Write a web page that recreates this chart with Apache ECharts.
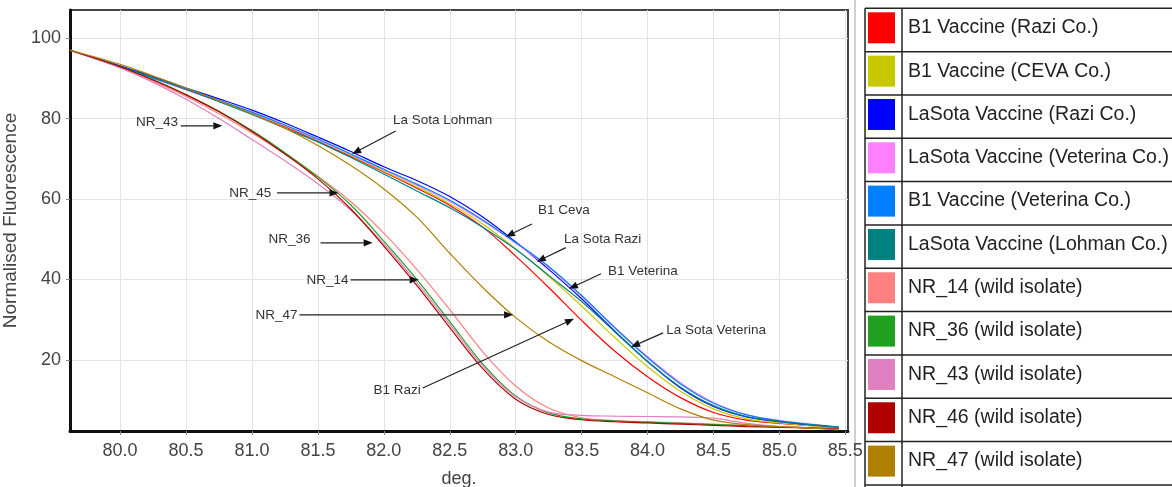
<!DOCTYPE html>
<html><head><meta charset="utf-8">
<script src="https://cdn.jsdelivr.net/npm/echarts@6/dist/echarts.min.js"></script>
<style>html,body{margin:0;padding:0;background:#fff;}#c{width:1172px;height:487px;}</style>
</head><body><div id="c"></div>
<script>
// ---- data ----
const temperature = [79.62, 80.0, 80.25, 80.5, 80.75, 81.0, 81.25, 81.5, 81.75, 82.0, 82.25, 82.5, 82.75, 83.0, 83.25, 83.5, 83.75, 84.0, 84.25, 84.5, 84.75, 85.0, 85.25, 85.45];

const b1Razi        = [97, 92.9, 90.1, 87.2, 84.3, 81.3, 78.0, 74.4, 70.6, 66.7, 62.7, 58.4, 53.0, 45.8, 38.0, 29.8, 22.2, 15.8, 10.6, 6.9, 5.0, 4.2, 3.6, 3.1];
const b1Ceva        = [97, 93.0, 90.2, 87.3, 84.4, 81.4, 78.2, 74.6, 70.8, 66.9, 63.0, 58.8, 53.8, 47.6, 40.8, 33.4, 25.6, 18.3, 12.2, 7.8, 5.3, 4.3, 3.6, 3.1];
const lasotaRazi    = [97, 93.1, 90.4, 87.6, 84.9, 82.1, 78.9, 75.4, 71.8, 68.0, 64.6, 60.6, 55.5, 49.3, 42.5, 35.2, 27.2, 19.6, 13.0, 8.4, 5.8, 4.6, 3.8, 3.2];
const lasotaVeterina= [97, 92.8, 90.0, 87.2, 84.3, 81.4, 78.2, 74.7, 71.0, 67.2, 63.4, 59.4, 54.5, 49.0, 43.0, 35.8, 28.2, 20.8, 14.3, 9.4, 6.4, 4.9, 4.0, 3.3];
const b1Veterina    = [97, 92.9, 90.1, 87.3, 84.5, 81.6, 78.4, 74.9, 71.2, 67.4, 63.7, 59.7, 54.8, 49.2, 43.2, 36.0, 28.0, 20.5, 14.0, 9.2, 6.3, 4.8, 3.9, 3.3];
const lasotaLohman  = [97, 93.0, 90.2, 87.3, 84.2, 81.0, 77.6, 74.2, 70.3, 66.2, 62.0, 57.8, 53.0, 47.5, 41.0, 34.5, 27.0, 19.6, 13.2, 8.6, 5.9, 4.7, 3.8, 3.2];
const nr14          = [97, 92.7, 89.3, 85.5, 81.2, 76.4, 71.2, 65.6, 59.3, 51.5, 42.5, 32.5, 22.0, 13.5, 8.0, 5.6, 4.9, 4.6, 4.3, 4.0, 3.7, 3.4, 3.1, 2.9];
const nr36          = [97, 92.9, 89.7, 86.0, 81.8, 77.0, 71.5, 65.5, 58.5, 49.5, 40.0, 29.5, 19.0, 11.0, 6.8, 5.3, 4.8, 4.5, 4.2, 3.9, 3.6, 3.3, 3.1, 2.9];
const nr43          = [97, 92.6, 89.0, 84.8, 80.0, 74.8, 69.5, 63.8, 57.2, 48.8, 39.2, 28.8, 18.5, 10.8, 7.0, 6.2, 6.0, 5.9, 5.8, 5.5, 4.2, 3.4, 3.1, 2.9];
const nr46          = [97, 92.9, 89.6, 85.9, 81.7, 76.8, 71.2, 65.0, 57.5, 48.3, 38.5, 28.0, 17.8, 10.2, 6.4, 5.1, 4.6, 4.3, 4.0, 3.7, 3.4, 3.2, 3.0, 2.8];
const nr47          = [97, 93.5, 90.6, 87.6, 84.5, 81.2, 77.6, 73.3, 68.3, 62.5, 55.5, 46.5, 38.0, 30.5, 24.5, 19.8, 15.8, 11.8, 7.8, 5.0, 3.9, 3.4, 3.0, 2.6];

const seriesNames = [
  'B1 Vaccine (Razi Co.)', 'B1 Vaccine (CEVA Co.)', 'LaSota Vaccine (Razi Co.)',
  'LaSota Vaccine (Veterina Co.)', 'B1 Vaccine (Veterina Co.)', 'LaSota Vaccine (Lohman Co.)',
  'NR_14 (wild isolate)', 'NR_36 (wild isolate)', 'NR_43 (wild isolate)',
  'NR_46 (wild isolate)', 'NR_47 (wild isolate)'
];
const seriesValues = [b1Razi, b1Ceva, lasotaRazi, lasotaVeterina, b1Veterina, lasotaLohman, nr14, nr36, nr43, nr46, nr47];
const seriesColors = ['#ff0000', '#c8c800', '#0000ff', '#ff80ff', '#0080ff', '#008080', '#ff8080', '#20a020', '#e080c0', '#b00000', '#b08000'];

const xTickValues = [80.0, 80.5, 81.0, 81.5, 82.0, 82.5, 83.0, 83.5, 84.0, 84.5, 85.0, 85.5];
const yTickValues = [20, 40, 60, 80, 100];

// annotation labels (data coordinates)
const annotations = [
  {text: 'NR_43', at: [80.44, 79.2], align: 'right', from: [80.46, 78.2], to: [80.775, 78.2]},
  {text: 'La Sota Lohman', at: [82.07, 79.45], align: 'left', from: [82.09, 76.9], to: [81.76, 71.2]},
  {text: 'NR_45', at: [81.147, 61.5], align: 'right', from: [81.19, 61.5], to: [81.656, 61.5]},
  {text: 'NR_36', at: [81.444, 50.1], align: 'right', from: [81.52, 49.1], to: [81.915, 49.1]},
  {text: 'NR_14', at: [81.732, 39.9], align: 'right', from: [81.748, 39.9], to: [82.264, 39.9]},
  {text: 'NR_47', at: [81.345, 31.2], align: 'right', from: [81.36, 31.2], to: [82.98, 31.2]},
  {text: 'B1 Razi', at: [82.28, 12.5], align: 'right', from: [82.295, 13.0], to: [83.442, 30.2]},
  {text: 'B1 Ceva', at: [83.169, 57.3], align: 'left', from: [83.123, 53.8], to: [82.925, 50.6]},
  {text: 'La Sota Razi', at: [83.366, 50.1], align: 'left', from: [83.38, 47.9], to: [83.16, 44.4]},
  {text: 'B1 Veterina', at: [83.70, 41.9], align: 'left', from: [83.647, 41.4], to: [83.404, 37.66]},
  {text: 'La Sota Veterina', at: [84.141, 27.46], align: 'left', from: [84.118, 26.7], to: [83.875, 23.2]}
];

// ---- chart ----
const FONT = '"Liberation Sans", Arial, sans-serif';
const chart = echarts.init(document.getElementById('c'), null, {renderer: 'canvas'});

const series = seriesNames.map((name, i) => ({
  name: name,
  type: 'line',
  data: temperature.map((t, k) => [t, seriesValues[i][k]]),
  showSymbol: false,
  smooth: 0.35,
  lineStyle: {width: 1.2, color: seriesColors[i]},
  itemStyle: {color: seriesColors[i]},
  emphasis: {disabled: true},
  silent: true
}));

// legend table frame
const tableGraphics = [];
const rowTop = 8.3, rowH = 43.33, nRows = seriesNames.length;
tableGraphics.push({type: 'line', shape: {x1: 855, y1: 0, x2: 855, y2: 487}, style: {stroke: '#d0d0d0', lineWidth: 2}, silent: true});
tableGraphics.push({type: 'line', shape: {x1: 865, y1: rowTop, x2: 865, y2: 487}, style: {stroke: '#222', lineWidth: 1.5}, silent: true});
tableGraphics.push({type: 'line', shape: {x1: 902, y1: rowTop, x2: 902, y2: 487}, style: {stroke: '#222', lineWidth: 1.5}, silent: true});
for (let k = 0; k <= nRows; k++) {
  const y = rowTop + k * rowH;
  tableGraphics.push({type: 'line', shape: {x1: 865, y1: y, x2: 1172, y2: y}, style: {stroke: '#222', lineWidth: 1.5}, silent: true});
}

const option = {
  animation: false,
  backgroundColor: '#ffffff',
  textStyle: {fontFamily: FONT},
  grid: {left: 70, right: 324, top: 10, bottom: 56, show: true, borderColor: '#444', borderWidth: 2, backgroundColor: 'transparent', containLabel: false, outerBoundsMode: 'none'},
  legend: {
    data: seriesNames,
    orient: 'vertical',
    left: 868, top: 12.3,
    padding: 0,
    itemWidth: 27, itemHeight: 31, itemGap: rowH - 31,
    icon: 'rect',
    selectedMode: false,
    textStyle: {fontSize: 19.5, color: '#222', fontFamily: FONT, padding: [6, 0, 0, 8]}
  },
  xAxis: {
    type: 'value', min: 79.62, max: 85.52,
    name: 'deg.', nameLocation: 'middle', nameGap: 39,
    nameTextStyle: {fontSize: 18, color: '#444', fontFamily: FONT},
    axisLine: {show: true, onZero: false, lineStyle: {color: '#111', width: 3}},
    axisTick: {show: true, customValues: xTickValues, length: 4, lineStyle: {color: '#888'}},
    axisLabel: {customValues: xTickValues, formatter: v => Number(v).toFixed(1), fontSize: 18, color: '#444', margin: 11, fontFamily: FONT},
    splitLine: {show: true, lineStyle: {color: '#e4e4e4', width: 1}}
  },
  yAxis: {
    type: 'value', min: 2.3, max: 107.0,
    name: 'Normalised Fluorescence', nameLocation: 'middle', nameGap: 44,
    nameTextStyle: {fontSize: 19, color: '#444', fontFamily: FONT},
    axisLine: {show: true, onZero: false, lineStyle: {color: '#111', width: 3}},
    axisTick: {show: true, customValues: yTickValues, length: 4, lineStyle: {color: '#888'}},
    axisLabel: {customValues: yTickValues, fontSize: 18, color: '#444', margin: 9, fontFamily: FONT},
    splitLine: {show: true, lineStyle: {color: '#e4e4e4', width: 1}}
  },
  series: series,
  graphic: tableGraphics
};
chart.setOption(option);

// annotation texts and arrows placed via the chart's own coordinate system
const annGraphics = [];
annotations.forEach(a => {
  const t = chart.convertToPixel({gridIndex: 0}, a.at);
  annGraphics.push({type: 'text', x: t[0], y: t[1], z: 100, silent: true,
    style: {text: a.text, fill: '#333', fontSize: 13.5, fontFamily: FONT, align: a.align, verticalAlign: 'middle'}});
  const p0 = chart.convertToPixel({gridIndex: 0}, a.from);
  const p1 = chart.convertToPixel({gridIndex: 0}, a.to);
  const dx = p1[0] - p0[0], dy = p1[1] - p0[1], len = Math.hypot(dx, dy);
  const ux = dx / len, uy = dy / len, hl = 9, hw = 3.6;
  const bx = p1[0] - ux * hl, by = p1[1] - uy * hl;
  annGraphics.push({type: 'line', z: 100, silent: true, shape: {x1: p0[0], y1: p0[1], x2: bx, y2: by}, style: {stroke: '#222', lineWidth: 1.2}});
  annGraphics.push({type: 'polygon', z: 100, silent: true, shape: {points: [[p1[0], p1[1]], [bx - uy * hw, by + ux * hw], [bx + uy * hw, by - ux * hw]]}, style: {fill: '#111'}});
});
chart.setOption({graphic: tableGraphics.concat(annGraphics)});
</script>
</body></html>
